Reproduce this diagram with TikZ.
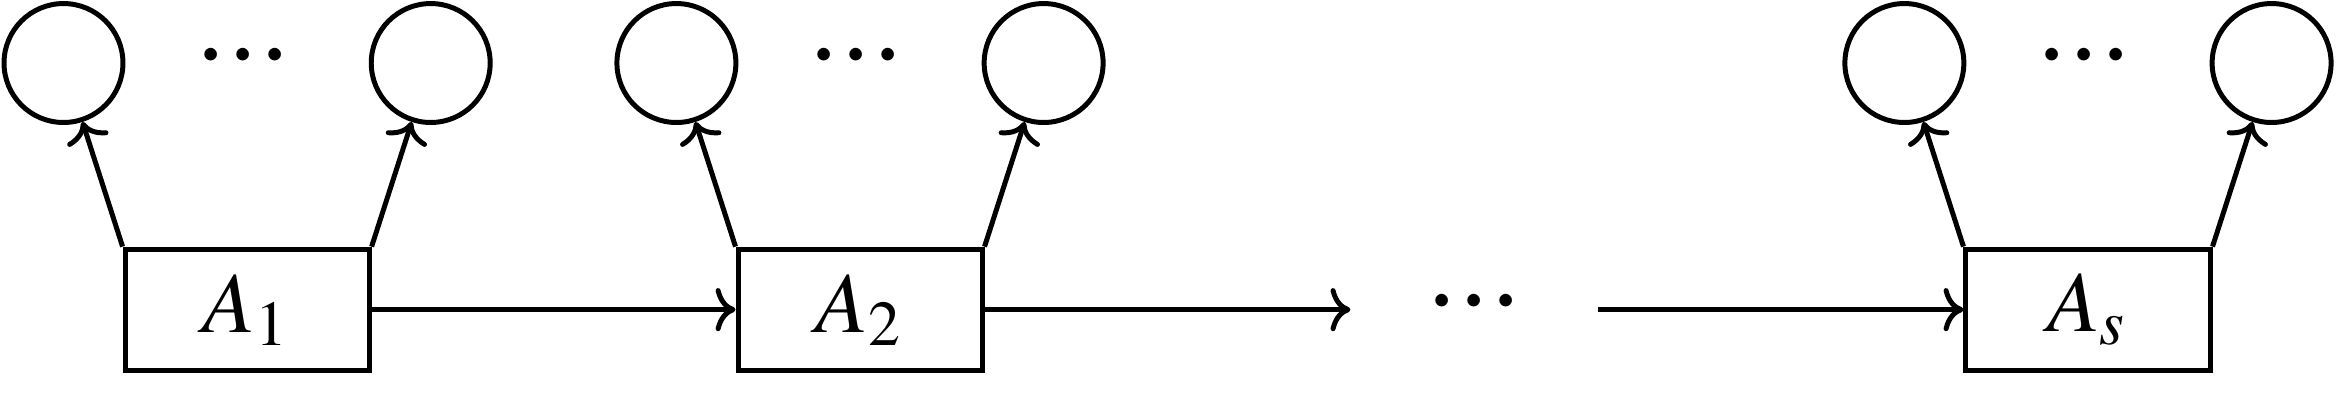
\documentclass[tikz,border=0pt]{standalone}
\usepackage{amsmath}
\usepackage{mathptmx}
\usepackage{tikz}
\usetikzlibrary{calc, arrows.meta, positioning}

% round dots taken from the CM symbol font
\DeclareSymbolFont{cmsymbols}{OMS}{cmsy}{m}{n}
\DeclareMathSymbol{\cmdot}{\mathord}{cmsymbols}{"01}
\newcommand{\bigcdot}{\makebox[3.86pt]{\fontsize{14.4}{15}\selectfont$\cmdot$}}
\newcommand{\stagedots}{\bigcdot\bigcdot\bigcdot}

\begin{document}
\begin{tikzpicture}[font=\fontsize{10.4}{12.5}\selectfont]
    % --- Definitions ---
    \useasboundingbox (0,0) rectangle (9.898,1.712);
    % The stages along the chain
    \coordinate (p1) at (1.047, 0.400);
    \coordinate (p2) at (3.644, 0.400);
    \coordinate (pgap) at (6.246, 0.400);
    \coordinate (ps) at (8.847, 0.400);

    % --- Styles ---
    \tikzstyle{block}=[
        draw=black,
        line width=0.6pt,
        inner sep=0pt,
        minimum width=1.034cm,
        minimum height=0.513cm
    ]
    \tikzstyle{gap}=[
        inner sep=0pt,
        minimum width=1.034cm,
        minimum height=0.513cm,
        text height=4.92pt,
        text depth=0pt
    ]
    \tikzstyle{ellipsis}=[
        inner sep=0pt,
        anchor=base
    ]
    \tikzstyle{leaf}=[
        draw=black,
        circle,
        line width=0.6pt,
        inner sep=0pt,
        minimum size=0.504cm
    ]
    \tikzstyle{flow}=[
        -{Computer Modern Rightarrow[length=2.4pt, width=5.2pt]},
        line width=0.6pt
    ]

    % --- 1. Draw the Stages ---
    \node[block] (A1) at (p1) {$A_1$};
    \node[block] (A2) at (p2) {$A_2$};
    \node[gap] (gap) at (pgap) {\stagedots};
    \node[block] (As) at (ps) {$A_s$};

    % --- 2. Draw the Outputs of each Stage ---
    \foreach \n in {A1, A2, As} {
        \node[ellipsis] (\n-dots) at ($(\n)+(-0.017,0.952)$) {\stagedots};
        \node[leaf] (\n-left) at ($(\n)+(-0.778,1.045)$) {};
        \node[leaf] (\n-right) at ($(\n)+(0.778,1.045)$) {};
        \draw[flow] (\n.north west) -- (\n-left);
        \draw[flow] (\n.north east) -- (\n-right);
    }

    % --- 3. Draw the Chain ---
    \draw[flow] (A1.east) -- (A2.west);
    \draw[flow] (A2.east) -- (gap.west);
    \draw[flow] (gap.east) -- (As.west);

\end{tikzpicture}
\end{document}
